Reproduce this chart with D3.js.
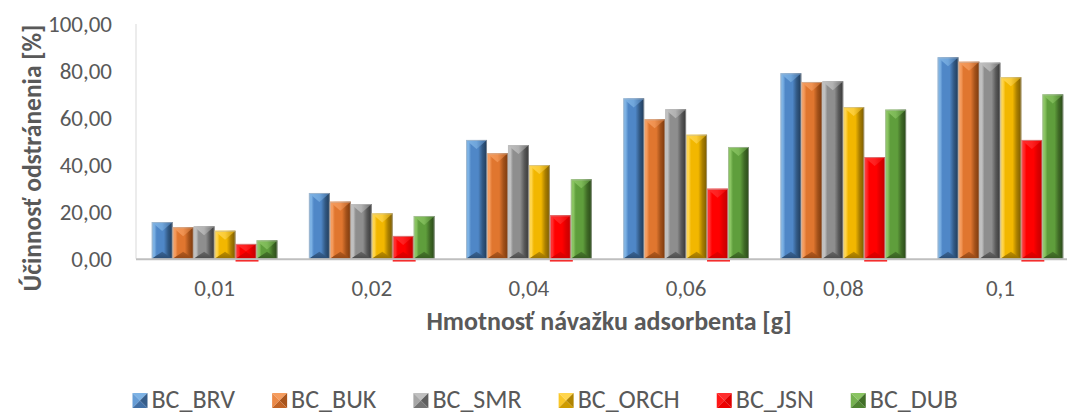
<!DOCTYPE html>
<html>
<head>
<meta charset="utf-8">
<script src="https://cdn.jsdelivr.net/npm/d3@7"></script>
<style>
  html, body { margin: 0; padding: 0; background: #ffffff; }
  svg { display: block; }
  text { font-family: Calibri, Carlito, Lato, sans-serif; fill: #595959; }
</style>
</head>
<body>
<svg id="chart" width="1067" height="415"></svg>
<script>
// Removal efficiency by adsorbent dose, one series per biochar
const categories = ["0,01", "0,02", "0,04", "0,06", "0,08", "0,1"];
const seriesNames = ["BC_BRV", "BC_BUK", "BC_SMR", "BC_ORCH", "BC_JSN", "BC_DUB"];
const BC_BRV  = [15.6, 28.0, 50.6, 68.3, 79.0, 85.8];
const BC_BUK  = [13.4, 24.3, 44.9, 59.4, 75.3, 83.9];
const BC_SMR  = [13.8, 23.3, 48.4, 63.7, 75.6, 83.5];
const BC_ORCH = [11.9, 19.3, 39.9, 52.8, 64.6, 77.3];
const BC_JSN  = [6.3, 9.7, 18.5, 29.8, 43.3, 50.6];
const BC_DUB  = [7.8, 18.2, 33.8, 47.6, 63.5, 70.0];
const yTicks = [0, 20, 40, 60, 80, 100];

const seriesValues = [BC_BRV, BC_BUK, BC_SMR, BC_ORCH, BC_JSN, BC_DUB];

// base / light / dark shades for the bevelled bars
const palette = [
  { base: "#4f87c7", light: "#7db2e4", dark: "#1f3a58" },
  { base: "#e0762f", light: "#f59c5e", dark: "#7a380c" },
  { base: "#8e8e8e", light: "#c0c0c0", dark: "#363636" },
  { base: "#f2b700", light: "#ffd54d", dark: "#7a5a00" },
  { base: "#ff0000", light: "#ff2e2e", dark: "#c40000" },
  { base: "#5f9e3c", light: "#8ac462", dark: "#294818" }
];

const svg = d3.select("#chart");
const W = 1067, H = 415;
svg.append("rect").attr("width", W).attr("height", H).attr("fill", "#ffffff");

const plot = { left: 136, right: 1079, top: 24, bottom: 258.7 };

const x0 = d3.scaleBand().domain(categories).range([plot.left, plot.right]).padding(0);
const x1 = d3.scaleBand().domain(seriesNames).range([0, x0.bandwidth()])
  .paddingInner(0).paddingOuter(0.75);
const y = d3.scaleLinear().domain([0, 100]).range([plot.bottom, plot.top]);

const skFormat = d3.formatLocale({ decimal: ",", thousands: " ", grouping: [3], currency: ["", " €"] }).format(".2f");

// gradients
const defs = svg.append("defs");
palette.forEach((c, i) => {
  const body = defs.append("linearGradient").attr("id", "body" + i)
    .attr("x1", "0").attr("x2", "1").attr("y1", "0").attr("y2", "0");
  [[0, c.light], [0.12, c.light], [0.24, c.base], [0.58, c.base],
   [0.78, d3.interpolateRgb(c.base, c.dark)(0.6)], [1, c.dark]]
    .forEach(([o, col]) => body.append("stop").attr("offset", o).attr("stop-color", col));

  const top = defs.append("linearGradient").attr("id", "top" + i)
    .attr("x1", "0").attr("x2", "1").attr("y1", "0").attr("y2", "0");
  [[0, c.light], [0.5, d3.interpolateRgb(c.light, c.base)(0.3)], [1, d3.interpolateRgb(c.base, c.dark)(0.4)]]
    .forEach(([o, col]) => top.append("stop").attr("offset", o).attr("stop-color", col));

  const bot = defs.append("linearGradient").attr("id", "bot" + i)
    .attr("x1", "0").attr("x2", "0").attr("y1", "0").attr("y2", "1");
  [[0, d3.interpolateRgb(c.base, c.dark)(0.45)], [1, d3.interpolateRgb(c.base, c.dark)(0.75)]]
    .forEach(([o, col]) => bot.append("stop").attr("offset", o).attr("stop-color", col));
});

// y axis line
svg.append("line")
  .attr("x1", plot.left).attr("x2", plot.left)
  .attr("y1", plot.top).attr("y2", plot.bottom)
  .attr("stroke", "#d9d9d9").attr("stroke-width", 1);

// y tick labels
const yAxis = d3.axisLeft(y).tickValues(yTicks).tickFormat(skFormat).tickSize(0).tickPadding(24);
const yg = svg.append("g").attr("transform", `translate(${plot.left},0)`).call(yAxis);
yg.select(".domain").remove();
yg.selectAll("text").style("font-size", "23px").attr("fill", "#595959")
  .style("font-family", "Calibri, Carlito, Lato, sans-serif");

// bars
const groups = svg.append("g").selectAll("g")
  .data(categories)
  .join("g")
  .attr("transform", d => `translate(${x0(d)},0)`);

seriesNames.forEach((name, si) => {
  const vals = seriesValues[si];
  groups.each(function (cat, ci) {
    const g = d3.select(this);
    const bx = x1(name), bw = x1.bandwidth();
    const yt = y(vals[ci]), yb = y(0);
    const h = yb - yt;
    const t = Math.min(9, h / 2);
    const tb = Math.min(7, h / 2);
    g.append("rect")
      .attr("x", bx).attr("y", yt).attr("width", bw).attr("height", h)
      .attr("fill", `url(#body${si})`);
    g.append("polygon")
      .attr("points", [[bx, yt], [bx + bw, yt], [bx + bw / 2, yt + t]].map(p => p.join(",")).join(" "))
      .attr("fill", `url(#top${si})`);
    g.append("polygon")
      .attr("points", [[bx, yb], [bx + bw, yb], [bx + bw / 2, yb - tb]].map(p => p.join(",")).join(" "))
      .attr("fill", `url(#bot${si})`);
    g.append("rect")
      .attr("x", bx + 0.5).attr("y", yt + 0.5).attr("width", bw - 1).attr("height", h - 0.5)
      .attr("fill", "none").attr("stroke", "rgba(190,190,190,0.55)").attr("stroke-width", 1);
    if (name === "BC_JSN") {
      g.append("line")
        .attr("x1", bx).attr("x2", bx + bw + 2)
        .attr("y1", yb + 2).attr("y2", yb + 2)
        .attr("stroke", "#ff0000").attr("stroke-width", 1.6);
    }
  });
});

// category axis baseline
svg.append("line")
  .attr("x1", plot.left).attr("x2", plot.right)
  .attr("y1", plot.bottom + 0.5).attr("y2", plot.bottom + 0.5)
  .attr("stroke", "#bfbfbf").attr("stroke-width", 2);

// x tick labels
const xAxis = d3.axisBottom(x0).tickSize(0).tickPadding(21);
const xg = svg.append("g").attr("transform", `translate(0,${plot.bottom})`).call(xAxis);
xg.select(".domain").remove();
xg.selectAll("text").style("font-size", "23px").attr("fill", "#595959")
  .style("font-family", "Calibri, Carlito, Lato, sans-serif");

// axis titles
svg.append("text")
  .attr("x", 609).attr("y", 330)
  .attr("text-anchor", "middle")
  .style("font-size", "26px").style("font-weight", "bold")
  .text("Hmotnosť návažku adsorbenta [g]");

svg.append("text")
  .attr("transform", "translate(41,158) rotate(-90)")
  .attr("text-anchor", "middle")
  .style("font-size", "25.5px").style("font-weight", "bold")
  .text("Účinnosť odstránenia [%]");

// legend
const legend = svg.append("g");
const items = legend.selectAll("g").data(seriesNames).join("g");
items.append("text")
  .attr("x", 19).attr("y", 15)
  .style("font-size", "26px")
  .text(d => d);
let cursor = 0;
const widths = [];
items.each(function () {
  widths.push(d3.select(this).select("text").node().getComputedTextLength());
});
const gap = 37;
const total = widths.reduce((a, w) => a + 19 + w, 0) + gap * (widths.length - 1);
cursor = 545 - total / 2;
items.each(function (d, i) {
  d3.select(this).attr("transform", `translate(${cursor},393)`);
  cursor += 19 + widths[i] + gap;
});
items.each(function (d, i) {
  const g = d3.select(this);
  const c = palette[i];
  const s = 15, m = s / 2;
  const faces = [
    { pts: [[0, 0], [s, 0], [m, m]], col: c.light },
    { pts: [[0, 0], [m, m], [0, s]], col: d3.interpolateRgb(c.light, c.base)(0.5) },
    { pts: [[s, 0], [s, s], [m, m]], col: d3.interpolateRgb(c.base, c.dark)(0.55) },
    { pts: [[0, s], [s, s], [m, m]], col: d3.interpolateRgb(c.base, c.dark)(0.3) }
  ];
  faces.forEach(f => g.append("polygon")
    .attr("points", f.pts.map(p => p.join(",")).join(" "))
    .attr("fill", f.col));
});
</script>
</body>
</html>
